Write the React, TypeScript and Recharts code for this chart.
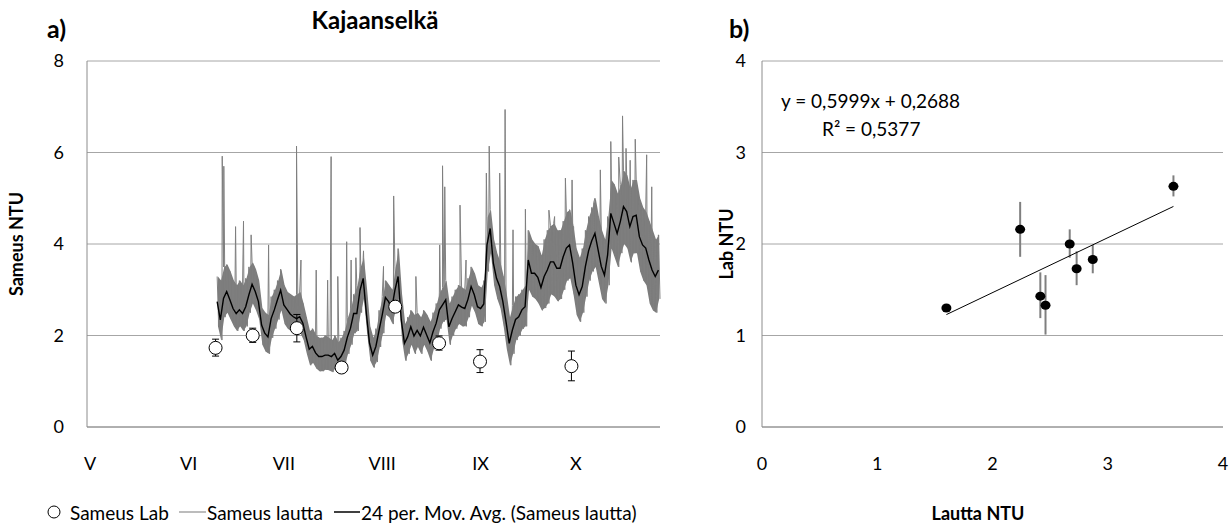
import React from "react";
import {
  ComposedChart,
  ScatterChart,
  Line,
  Area,
  Scatter,
  XAxis,
  YAxis,
  CartesianGrid,
  ErrorBar,
  ReferenceLine,
} from "recharts";

const FONT = "Lato, 'Open Sans', sans-serif";

// day numbers counted from 30 April (1 = 1 May)
const monthTicks = [1, 32, 62, 93, 124, 154];
const monthLabels = ["V", "VI", "VII", "VIII", "IX", "X"];

// lautta readings, one value per day from day 41 onwards
const firstDay = 41;
const lauttaMovAvg = [
  2.74, 2.34, 2.81, 2.96, 2.78, 2.59, 2.48, 2.56, 2.48, 2.63,
  2.89, 3.12, 2.96, 2.74, 2.23, 2.05, 1.97, 2.37, 2.56, 2.78,
  2.99, 2.67, 2.57, 2.47, 2.41, 2.37, 2.41, 2.27, 1.97, 1.7,
  1.76, 1.62, 1.54, 1.54, 1.57, 1.57, 1.54, 1.61, 1.46, 1.54,
  1.68, 1.96, 2.16, 2.48, 2.48, 2.99, 3.25, 2.48, 1.83, 1.57,
  1.76, 2.11, 2.45, 2.83, 2.74, 2.59, 2.99, 3.29, 2.34, 1.83,
  1.97, 2.19, 1.99, 2.11, 1.99, 2.18, 2.01, 1.84, 2.08, 2.27,
  2.56, 2.67, 2.78, 2.19, 2.37, 2.52, 2.67, 2.62, 2.59, 2.79,
  3.07, 2.89, 2.63, 2.59, 2.69, 3.98, 4.34, 3.58, 3.25, 3.07,
  2.74, 2.3, 1.83, 2.12, 2.35, 2.41, 2.56, 2.63, 3.65, 3.36,
  3.36, 3.27, 3.05, 3.29, 3.43, 3.61, 3.61, 3.47, 3.47, 3.72,
  3.91, 3.98, 3.58, 3.1, 2.89, 3.07, 3.51, 3.85, 4.07, 4.23,
  3.87, 3.51, 3.32, 3.76, 4.67, 4.45, 4.23, 4.49, 4.82, 4.71,
  4.38, 4.6, 4.63, 4.16, 3.98, 3.91, 3.65, 3.43, 3.29, 3.43,
];
const lauttaHigh = [
  3.29, 3.2, 3.5, 3.55, 3.4, 3.2, 3.1, 3.2, 3.1, 3.25,
  3.5, 3.6, 3.45, 3.2, 2.6, 2.5, 2.45, 2.85, 3.0, 3.2,
  3.45, 3.1, 2.95, 2.9, 2.85, 2.9, 2.95, 2.7, 2.4, 2.1,
  2.15, 2.0, 1.95, 1.95, 2.0, 1.95, 1.9, 2.0, 1.85, 1.95,
  2.1, 2.4, 2.6, 2.9, 3.1, 3.5, 3.7, 3.0, 2.2, 1.95,
  2.15, 2.55, 2.85, 3.2, 3.1, 3.0, 3.5, 3.9, 2.9, 2.25,
  2.4, 2.55, 2.45, 2.5, 2.4, 2.55, 2.45, 2.3, 2.5, 2.7,
  2.95, 3.05, 3.2, 2.7, 2.85, 3.0, 3.1, 3.05, 3.0, 3.25,
  3.5, 3.35, 3.1, 3.05, 3.2, 4.6, 4.75, 4.1, 3.8, 3.6,
  3.3, 2.9, 2.4, 2.65, 2.85, 2.9, 3.0, 3.1, 4.3, 4.1,
  4.0, 3.95, 3.75, 4.1, 4.3, 4.4, 4.45, 4.3, 4.3, 4.5,
  4.7, 4.75, 4.4, 3.9, 3.7, 3.9, 4.3, 4.6, 4.8, 5.0,
  4.6, 4.3, 4.1, 4.6, 5.4, 5.3, 5.1, 5.3, 5.6, 5.5,
  5.2, 5.4, 5.4, 5.0, 4.8, 4.7, 4.5, 4.3, 4.1, 4.2,
];
const lauttaLow = [
  2.2, 1.9, 2.4, 2.5, 2.35, 2.2, 2.1, 2.2, 2.1, 2.2,
  2.5, 2.7, 2.55, 2.35, 1.8, 1.65, 1.6, 1.95, 2.15, 2.35,
  2.55, 2.25, 2.15, 2.1, 2.05, 2.0, 2.05, 1.9, 1.6, 1.35,
  1.4, 1.28, 1.22, 1.22, 1.25, 1.24, 1.2, 1.28, 1.18, 1.22,
  1.35, 1.6, 1.8, 2.05, 2.1, 2.5, 2.8, 2.05, 1.45, 1.3,
  1.42, 1.75, 2.05, 2.45, 2.4, 2.25, 2.55, 2.8, 1.9, 1.45,
  1.6, 1.8, 1.6, 1.75, 1.6, 1.8, 1.65, 1.45, 1.7, 1.85,
  2.15, 2.3, 2.35, 1.8, 2.0, 2.15, 2.25, 2.2, 2.2, 2.4,
  2.65, 2.5, 2.25, 2.2, 2.3, 3.4, 3.8, 3.1, 2.8, 2.6,
  2.2, 1.7, 1.35, 1.6, 1.9, 2.0, 2.15, 2.2, 3.0, 2.85,
  2.8, 2.7, 2.55, 2.6, 2.7, 2.9, 2.85, 2.75, 2.8, 3.0,
  3.2, 3.25, 2.9, 2.45, 2.3, 2.5, 2.85, 3.2, 3.4, 3.5,
  3.15, 2.8, 2.7, 3.1, 3.9, 3.7, 3.5, 3.8, 4.0, 3.9,
  3.6, 3.8, 3.8, 3.4, 3.2, 3.1, 2.7, 2.55, 2.5, 2.8,
];
// single-reading peaks: [day, NTU]
const lauttaSpikes: [number, number][] = [
  [42.6, 5.92], [43.1, 5.7], [46.8, 4.38], [49.3, 4.5], [51.7, 4.2],
  [57.2, 3.98], [66.0, 6.14], [67.4, 3.65], [72.2, 3.43], [75.8, 3.21],
  [76.9, 5.91], [79.0, 3.29], [81.8, 4.05], [83.2, 3.65], [84.7, 3.7],
  [86.0, 4.36], [87.1, 3.85], [93.4, 3.51], [96.6, 5.05], [103.6, 3.29],
  [111.1, 3.98], [112.0, 5.71], [112.7, 5.25], [117.5, 4.85], [119.4, 3.65],
  [125.8, 5.55], [126.7, 6.14], [130.0, 5.55], [131.7, 6.94], [134.2, 4.31],
  [138.1, 4.76], [139.7, 4.0], [145.5, 4.74], [147.3, 4.6], [150.7, 5.44],
  [152.8, 5.4], [153.3, 4.38], [159.6, 4.9], [161.7, 5.62], [165.0, 6.24],
  [167.5, 5.9], [168.7, 6.8], [169.8, 6.09], [171.1, 5.83], [172.7, 6.29],
  [176.3, 5.95], [177.9, 5.25],
];

// laboratory samples
const labDays = [40.5, 52.2, 66.1, 80.2, 97.1, 110.9, 123.8, 152.6];
const labValues = [1.73, 2.0, 2.16, 1.3, 2.63, 1.83, 1.43, 1.33];
const labErrLow = [0.18, 0.15, 0.3, 0.03, 0.11, 0.15, 0.24, 0.32];
const labErrHigh = [0.19, 0.16, 0.3, 0.03, 0.12, 0.16, 0.26, 0.33];
const lauttaAtLab = [2.73, 2.67, 2.24, 1.6, 3.57, 2.87, 2.415, 2.46];

const trendSlope = 0.5999;
const trendIntercept = 0.2688;

const grayData: { d: number; v: number }[] = [];
lauttaHigh.forEach((h, i) => {
  grayData.push({ d: firstDay + i, v: h });
  grayData.push({ d: firstDay + i + 0.5, v: lauttaLow[i] });
});
lauttaSpikes.forEach(([d, v]) => grayData.push({ d, v }));
grayData.sort((a, b) => a.d - b.d);

const bandData = lauttaHigh.map((h, i) => ({ d: firstDay + i + 0.25, range: [lauttaLow[i], h] }));
const maData = lauttaMovAvg.map((v, i) => ({ d: firstDay + i, v }));
const labData = labDays.map((d, i) => ({
  d,
  v: labValues[i],
  err: [labErrLow[i], labErrHigh[i]],
}));
const scatterData = lauttaAtLab.map((x, i) => ({
  x,
  y: labValues[i],
  err: [labErrLow[i], labErrHigh[i]],
}));
const trendX = [Math.min(...lauttaAtLab), Math.max(...lauttaAtLab)];

const tickStyle = { fontSize: 18, fill: "#000", fontFamily: FONT };
const axisStroke = { stroke: "#8c8c8c" };

const OpenCircle = (p: any) => (
  <circle cx={p.cx} cy={p.cy} r={6.5} fill="#fff" stroke="#000" strokeWidth={1} />
);
const Dot = (p: any) => <ellipse cx={p.cx} cy={p.cy} rx={5} ry={4.5} fill="#000" />;

const abs = (s: React.CSSProperties): React.CSSProperties => ({
  position: "absolute",
  whiteSpace: "nowrap",
  lineHeight: 1,
  ...s,
});

const LEGEND_Y = 512;

export default function App() {
  return (
    <div
      style={{
        position: "absolute",
        left: 0,
        top: 0,
        width: 1231,
        height: 524,
        background: "#fff",
        fontFamily: FONT,
        color: "#000",
      }}
    >
      <div style={{ position: "absolute", left: 0, top: 0 }}>
        <ComposedChart width={700} height={524} margin={{ top: 61, right: 40, bottom: 67, left: 0 }}>
          <CartesianGrid vertical={false} stroke="#a6a6a6" />
          <XAxis
            type="number"
            dataKey="d"
            domain={[0, 180]}
            ticks={monthTicks}
            interval={0}
            tickFormatter={(v) => monthLabels[monthTicks.indexOf(v)]}
            tickLine={false}
            axisLine={axisStroke}
            tick={tickStyle}
            tickMargin={24}
            height={30}
          />
          <YAxis
            type="number"
            domain={[0, 8]}
            ticks={[0, 2, 4, 6, 8]}
            width={87}
            tickLine={false}
            axisLine={axisStroke}
            tick={tickStyle}
            tickMargin={17}
          />
          <Area
            data={bandData}
            dataKey="range"
            type="linear"
            stroke="none"
            fill="#7c7c7c"
            fillOpacity={1}
            isAnimationActive={false}
          />
          <Line
            data={grayData}
            dataKey="v"
            type="linear"
            stroke="#7f7f7f"
            strokeWidth={1}
            dot={false}
            isAnimationActive={false}
          />
          <Line
            data={maData}
            dataKey="v"
            type="linear"
            stroke="#000"
            strokeWidth={1.4}
            dot={false}
            isAnimationActive={false}
          />
          <Scatter data={labData} dataKey="v" shape={OpenCircle} isAnimationActive={false}>
            <ErrorBar dataKey="err" direction="y" width={3.5} stroke="#000" strokeWidth={1} />
          </Scatter>
        </ComposedChart>
      </div>

      <div style={{ position: "absolute", left: 700, top: 0 }}>
        <ScatterChart width={531} height={524} margin={{ top: 61, right: 8, bottom: 67, left: 0 }}>
          <CartesianGrid vertical={false} stroke="#a6a6a6" />
          <XAxis
            type="number"
            dataKey="x"
            domain={[0, 4]}
            ticks={[0, 1, 2, 3, 4]}
            interval={0}
            tickLine={false}
            axisLine={axisStroke}
            tick={tickStyle}
            tickMargin={24}
            height={30}
          />
          <YAxis
            type="number"
            dataKey="y"
            domain={[0, 4]}
            ticks={[0, 1, 2, 3, 4]}
            width={62}
            tickLine={false}
            axisLine={axisStroke}
            tick={tickStyle}
            tickMargin={10}
          />
          <Scatter data={scatterData} shape={Dot} isAnimationActive={false}>
            <ErrorBar dataKey="err" direction="y" width={0} stroke="#7f7f7f" strokeWidth={2} />
          </Scatter>
          <ReferenceLine
            segment={[
              { x: trendX[0], y: trendSlope * trendX[0] + trendIntercept },
              { x: trendX[1], y: trendSlope * trendX[1] + trendIntercept },
            ]}
            stroke="#000"
            strokeWidth={1}
          />
        </ScatterChart>
      </div>

      {/* panel letters, title, axis titles */}
      <div style={abs({ left: 47, top: 16, fontSize: 25, fontWeight: 700 })}>a)</div>
      <div style={abs({ left: 729, top: 16, fontSize: 25, fontWeight: 700 })}>b)</div>
      <div style={abs({ left: 375, top: 20, fontSize: 24, fontWeight: 700, transform: "translate(-50%, -50%)" })}>
        Kajaanselkä
      </div>
      <div
        style={abs({
          left: 16,
          top: 244,
          fontSize: 18,
          fontWeight: 700,
          transform: "translate(-50%, -50%) rotate(-90deg)",
        })}
      >
        Sameus NTU
      </div>
      <div
        style={abs({
          left: 726,
          top: 244,
          fontSize: 18,
          fontWeight: 700,
          transform: "translate(-50%, -50%) rotate(-90deg)",
        })}
      >
        Lab NTU
      </div>
      <div style={abs({ left: 978, top: 513, fontSize: 18, fontWeight: 700, transform: "translate(-50%, -50%)" })}>
        Lautta NTU
      </div>

      {/* trendline equation */}
      <div style={abs({ left: 781, top: 91, fontSize: 19 })}>y = 0,5999x + 0,2688</div>
      <div style={abs({ left: 822, top: 119, fontSize: 19 })}>R² = 0,5377</div>

      {/* legend */}
      <svg style={{ position: "absolute", left: 0, top: LEGEND_Y - 10 }} width={380} height={20}>
        <circle cx={54} cy={10} r={6} fill="#fff" stroke="#000" strokeWidth={1} />
        <line x1={179} y1={10} x2={206} y2={10} stroke="#a6a6a6" strokeWidth={1.5} />
        <line x1={334} y1={10} x2={360} y2={10} stroke="#000" strokeWidth={1.5} />
      </svg>
      <div style={abs({ left: 70, top: LEGEND_Y, fontSize: 19, transform: "translateY(-50%)" })}>Sameus Lab</div>
      <div style={abs({ left: 207, top: LEGEND_Y, fontSize: 19, transform: "translateY(-50%)" })}>Sameus lautta</div>
      <div style={abs({ left: 361, top: LEGEND_Y, fontSize: 19, transform: "translateY(-50%)" })}>
        24 per. Mov. Avg. (Sameus lautta)
      </div>
    </div>
  );
}
